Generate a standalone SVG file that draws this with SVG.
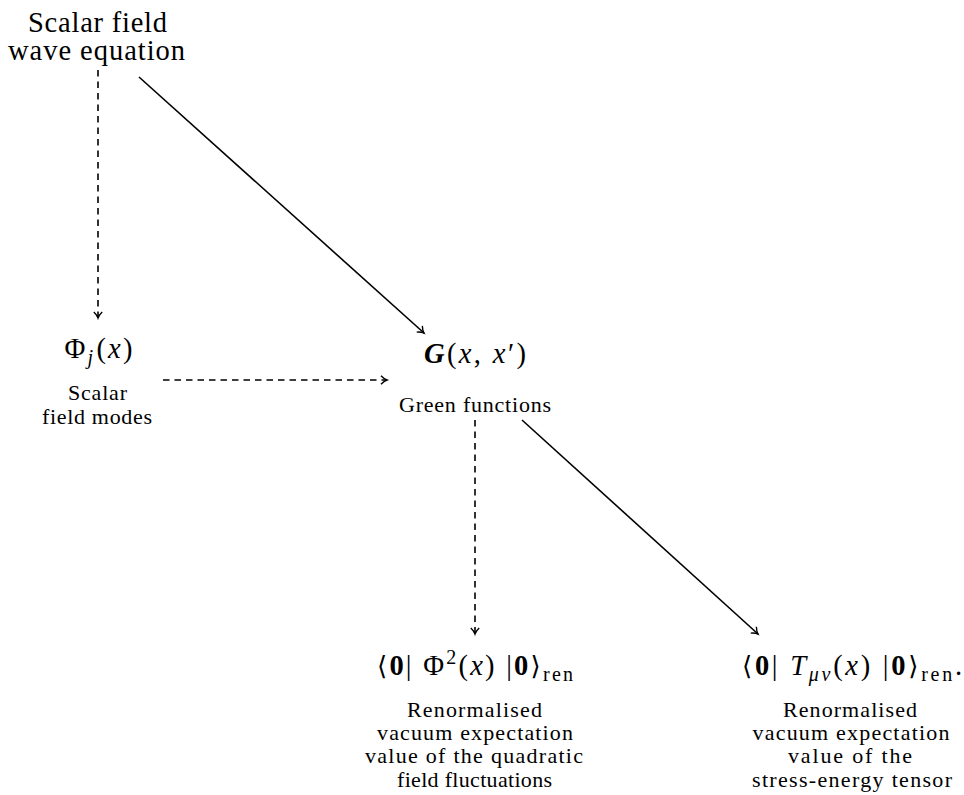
<svg xmlns="http://www.w3.org/2000/svg" width="964" height="795" viewBox="0 0 964 795">
<style>
text{font-family:"Liberation Serif","DejaVu Serif",serif;fill:#000;text-anchor:middle}
.big{font-size:28.5px}
.small{font-size:22px}
.it{font-style:italic}
.bf{font-weight:bold;font-style:normal}
.ang{font-family:"DejaVu Serif","DejaVu Sans",serif;font-weight:normal;font-size:26px}
.c{fill:none;stroke:#000;stroke-width:1.6}
.d{stroke-dasharray:6.5,5}
</style>
<defs>
<marker id="ah" markerWidth="12" markerHeight="12" refX="9" refY="6" orient="auto" markerUnits="userSpaceOnUse">
<path d="M3,1.8 Q6,5 9,6 Q6,7 3,10.2" fill="none" stroke="#000" stroke-width="1.4"/>
</marker>
</defs>
<rect width="964" height="795" fill="#fff"/>
<g id="connectors">
<line class="c d" x1="98" y1="70" x2="98" y2="318" marker-end="url(#ah)"/>
<line class="c" x1="139" y1="77" x2="424" y2="333" marker-end="url(#ah)"/>
<line class="c d" x1="163" y1="380" x2="387" y2="380" marker-end="url(#ah)"/>
<line class="c d" x1="475" y1="420" x2="475" y2="634" marker-end="url(#ah)"/>
<line class="c" x1="522" y1="420" x2="758" y2="634" marker-end="url(#ah)"/>
</g>
<g id="wave">
<text class="big" x="97.5" y="32" textLength="139" lengthAdjust="spacing">Scalar field</text>
<text class="big" x="96.5" y="60" textLength="177" lengthAdjust="spacing">wave equation</text>
</g>
<g id="modes">
<text class="big" x="98.5" y="358" textLength="68" lengthAdjust="spacing">Φ<tspan class="it" font-size="20" dy="6">j</tspan><tspan dy="-6" dx="1">(</tspan><tspan class="it">x</tspan>)</text>
<text class="small" x="97.5" y="400" textLength="59" lengthAdjust="spacing">Scalar</text>
<text class="small" x="97" y="424" textLength="110" lengthAdjust="spacing">field modes</text>
</g>
<g id="green">
<text class="big" x="475" y="363" textLength="102" lengthAdjust="spacing"><tspan font-weight="bold" font-style="italic">G</tspan>(<tspan class="it">x</tspan>, <tspan class="it">x</tspan>′)</text>
<text class="small" x="475" y="412" textLength="152" lengthAdjust="spacing">Green functions</text>
</g>
<g id="phi2">
<text class="big" x="475" y="675" textLength="196" lengthAdjust="spacing"><tspan class="ang">⟨</tspan><tspan class="bf">0</tspan>| Φ<tspan font-size="20" dy="-11">2</tspan><tspan dy="11">(</tspan><tspan class="it">x</tspan>) |<tspan class="bf">0</tspan><tspan class="ang">⟩</tspan><tspan font-size="20" dy="6">ren</tspan></text>
<text class="small" x="474.5" y="717" textLength="135" lengthAdjust="spacing">Renormalised</text>
<text class="small" x="475" y="740" textLength="196" lengthAdjust="spacing">vacuum expectation</text>
<text class="small" x="474" y="763" textLength="218" lengthAdjust="spacing">value of the quadratic</text>
<text class="small" x="474.5" y="787" textLength="155" lengthAdjust="spacing">field fluctuations</text>
</g>
<g id="tmunu">
<text class="big" x="852" y="675" textLength="220" lengthAdjust="spacing"><tspan class="ang">⟨</tspan><tspan class="bf">0</tspan>| <tspan class="it">T</tspan><tspan class="it" font-size="20" dy="6">μν</tspan><tspan dy="-6">(</tspan><tspan class="it">x</tspan>) |<tspan class="bf">0</tspan><tspan class="ang">⟩</tspan><tspan font-size="20" dy="6">ren</tspan><tspan dy="-6">.</tspan></text>
<text class="small" x="850" y="717" textLength="134" lengthAdjust="spacing">Renormalised</text>
<text class="small" x="851" y="740" textLength="197" lengthAdjust="spacing">vacuum expectation</text>
<text class="small" x="850" y="763" textLength="124" lengthAdjust="spacing">value of the</text>
<text class="small" x="852" y="787" textLength="200" lengthAdjust="spacing">stress-energy tensor</text>
</g>
</svg>
